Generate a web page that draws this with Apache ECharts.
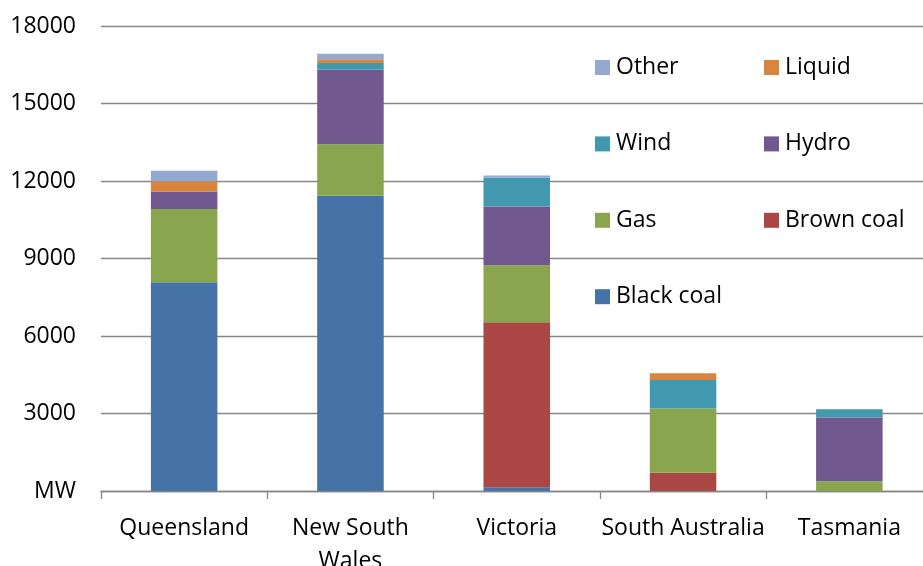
<!DOCTYPE html>
<html>
<head>
<meta charset="utf-8">
<script src="https://cdn.jsdelivr.net/npm/echarts@6/dist/echarts.min.js"></script>
<style>html,body{margin:0;padding:0;background:#fff}#c{width:923px;height:566px}</style>
</head>
<body>
<div id="c"></div>
<script>
var categories = ['Queensland', 'New South Wales', 'Victoria', 'South Australia', 'Tasmania'];
var blackCoal = [8080, 11430, 150, 0, 0];
var brownCoal = [0, 0, 6380, 710, 0];
var gas = [2840, 1990, 2210, 2480, 380];
var hydro = [670, 2890, 2270, 0, 2470];
var wind = [0, 260, 1120, 1110, 310];
var liquid = [400, 140, 0, 260, 0];
var other = [410, 220, 80, 0, 0];
var yTicks = [0, 3000, 6000, 9000, 12000, 15000, 18000];

var seriesDefs = [
  ['Black coal', blackCoal, '#4572A7'],
  ['Brown coal', brownCoal, '#AA4643'],
  ['Gas', gas, '#89A54E'],
  ['Hydro', hydro, '#71588F'],
  ['Wind', wind, '#4198AF'],
  ['Liquid', liquid, '#DB843D'],
  ['Other', other, '#93A9CF']
];

var font = '"Open Sans", "DejaVu Sans", sans-serif';
var chart = echarts.init(document.getElementById('c'), null, {renderer: 'canvas'});

function legendCol(names, left) {
  return {
    data: names,
    orient: 'vertical',
    left: left,
    top: 55.5,
    padding: 0,
    itemGap: 52.4,
    itemWidth: 15,
    itemHeight: 15,
    icon: 'rect',
    selectedMode: false,
    textStyle: {fontFamily: font, fontSize: 23, color: '#000', lineHeight: 24, padding: [0, 0, 0, 1]}
  };
}

chart.setOption({
  animation: false,
  backgroundColor: '#fff',
  grid: {left: 101, right: -9.5, top: 26, bottom: 75, containLabel: false, outerBoundsMode: 'none'},
  legend: [
    legendCol(['Other', 'Wind', 'Gas', 'Black coal'], 595),
    legendCol(['Liquid', 'Hydro', 'Brown coal'], 764)
  ],
  xAxis: {
    type: 'category',
    data: categories,
    axisLine: {lineStyle: {color: '#868686', width: 1.3}},
    axisTick: {show: true, length: 8, lineStyle: {color: '#868686', width: 1.3}},
    axisLabel: {
      fontFamily: font, fontSize: 23, color: '#000', margin: 21, lineHeight: 33,
      interval: 0,
      formatter: function (v) { return v === 'New South Wales' ? 'New South\nWales' : v; }
    }
  },
  yAxis: {
    type: 'value',
    min: yTicks[0],
    max: yTicks[yTicks.length - 1],
    interval: yTicks[1] - yTicks[0],
    axisLine: {show: false},
    axisTick: {show: false},
    splitLine: {lineStyle: {color: '#868686', width: 1.3}},
    axisLabel: {
      fontFamily: font, fontSize: 23, color: '#000', margin: 25,
      formatter: function (v) { return v === 0 ? 'MW' : String(v); }
    }
  },
  series: seriesDefs.map(function (d) {
    return {
      name: d[0],
      type: 'bar',
      stack: 'total',
      data: d[1],
      barWidth: '40%',
      itemStyle: {color: d[2]}
    };
  })
});
</script>
</body>
</html>
